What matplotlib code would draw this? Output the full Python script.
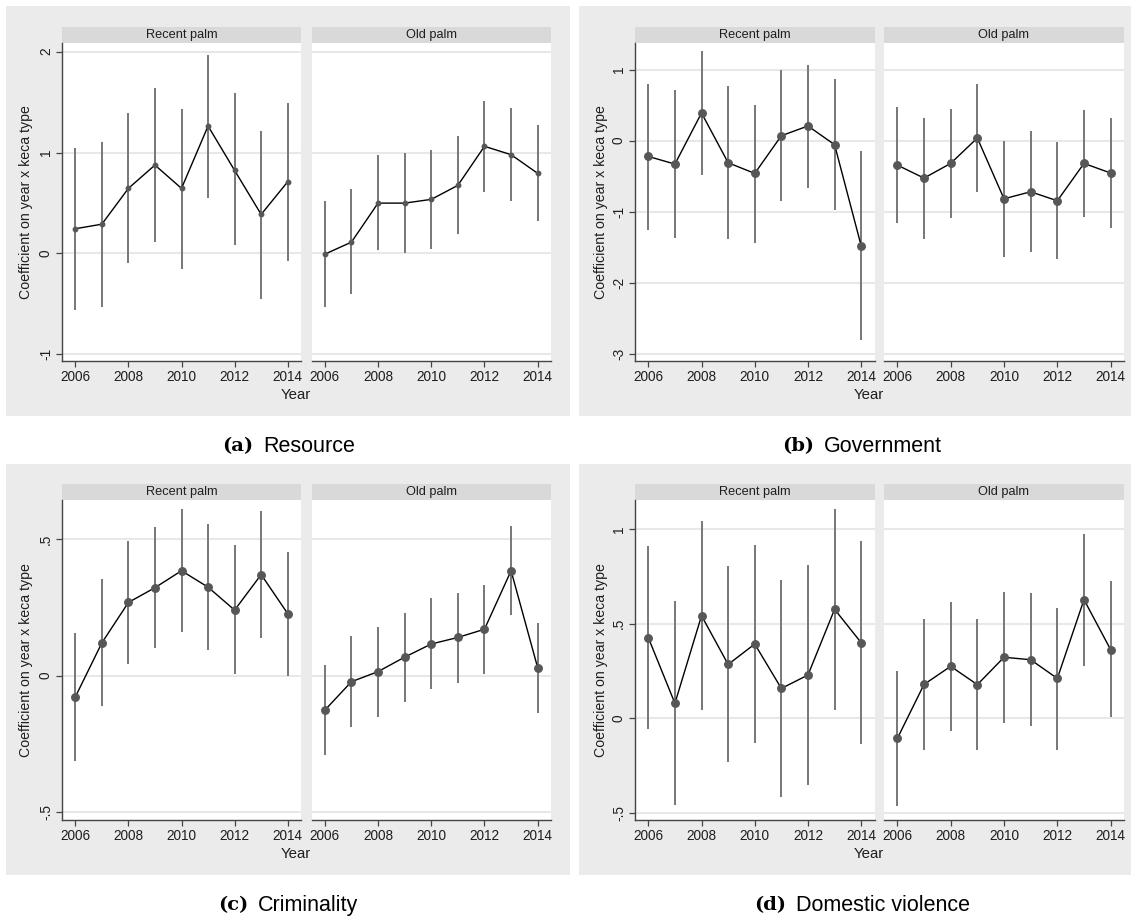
import numpy as np
import matplotlib.pyplot as plt
from matplotlib.patches import Rectangle

years = [2006, 2007, 2008, 2009, 2010, 2011, 2012, 2013, 2014]

# (a) Resource
res_recent = [0.245, 0.29, 0.645, 0.876, 0.645, 1.263, 0.823, 0.387, 0.711]
res_recent_lo = [-0.556, -0.533, -0.096, 0.116, -0.152, 0.549, 0.079, -0.449, -0.072]
res_recent_hi = [1.05, 1.108, 1.389, 1.637, 1.429, 1.964, 1.587, 1.213, 1.495]
res_old = [-0.007, 0.112, 0.499, 0.499, 0.536, 0.675, 1.062, 0.979, 0.794]
res_old_lo = [-0.529, -0.404, 0.033, 0.007, 0.046, 0.195, 0.608, 0.523, 0.324]
res_old_hi = [0.523, 0.642, 0.972, 0.992, 1.029, 1.161, 1.508, 1.438, 1.277]

# (b) Government
gov_recent = [-0.221, -0.329, 0.390, -0.310, -0.460, 0.070, 0.207, -0.056, -1.479]
gov_recent_lo = [-1.254, -1.362, -0.479, -1.385, -1.432, -0.854, -0.662, -0.972, -2.808]
gov_recent_hi = [0.803, 0.709, 1.258, 0.765, 0.507, 0.991, 1.061, 0.864, -0.141]
gov_old = [-0.343, -0.526, -0.319, 0.038, -0.817, -0.718, -0.845, -0.319, -0.455]
gov_old_lo = [-1.160, -1.376, -1.094, -0.723, -1.629, -1.559, -1.662, -1.075, -1.225]
gov_old_hi = [0.474, 0.315, 0.451, 0.803, 0.0, 0.131, -0.023, 0.437, 0.324]

# (c) Criminality
crim_recent = [-0.078, 0.120, 0.268, 0.322, 0.384, 0.324, 0.240, 0.370, 0.227]
crim_recent_lo = [-0.312, -0.112, 0.043, 0.101, 0.159, 0.094, 0.006, 0.137, -0.002]
crim_recent_hi = [0.156, 0.354, 0.494, 0.545, 0.611, 0.555, 0.477, 0.604, 0.454]
crim_old = [-0.126, -0.022, 0.015, 0.068, 0.116, 0.140, 0.170, 0.384, 0.029]
crim_old_lo = [-0.290, -0.189, -0.150, -0.096, -0.050, -0.026, 0.005, 0.222, -0.137]
crim_old_hi = [0.040, 0.145, 0.179, 0.230, 0.283, 0.304, 0.332, 0.546, 0.193]

# (d) Domestic violence
dv_recent = [0.426, 0.078, 0.542, 0.284, 0.392, 0.157, 0.228, 0.576, 0.399]
dv_recent_lo = [-0.057, -0.461, 0.044, -0.235, -0.131, -0.417, -0.353, 0.042, -0.138]
dv_recent_hi = [0.910, 0.618, 1.042, 0.806, 0.915, 0.730, 0.809, 1.106, 0.935]
dv_old = [-0.108, 0.178, 0.274, 0.177, 0.322, 0.309, 0.210, 0.627, 0.362]
dv_old_lo = [-0.463, -0.170, -0.069, -0.170, -0.027, -0.041, -0.168, 0.274, 0.004]
dv_old_hi = [0.247, 0.523, 0.615, 0.527, 0.668, 0.661, 0.583, 0.977, 0.724]

facet_names = ['Recent palm', 'Old palm']
captions = [('(a)', 'Resource'), ('(b)', 'Government'),
            ('(c)', 'Criminality'), ('(d)', 'Domestic violence')]
yticks = [[-1, 0, 1, 2], [-3, -2, -1, 0, 1], [-0.5, 0, 0.5], [-0.5, 0, 0.5, 1]]
yticklabels = [['-1', '0', '1', '2'], ['-3', '-2', '-1', '0', '1'],
               ['-.5', '0', '.5'], ['-.5', '0', '.5', '1']]
ylims = [(-1.066, 2.086), (-3.098, 1.374), (-0.526, 0.641), (-0.537, 1.152)]

series = [
    [(res_recent, res_recent_lo, res_recent_hi), (res_old, res_old_lo, res_old_hi)],
    [(gov_recent, gov_recent_lo, gov_recent_hi), (gov_old, gov_old_lo, gov_old_hi)],
    [(crim_recent, crim_recent_lo, crim_recent_hi), (crim_old, crim_old_lo, crim_old_hi)],
    [(dv_recent, dv_recent_lo, dv_recent_hi), (dv_old, dv_old_lo, dv_old_hi)],
]

W, H = 1135, 921
plt.rcParams['font.family'] = ['Liberation Sans', 'DejaVu Sans']

fig = plt.figure(figsize=(W / 100, H / 100), dpi=100)
renderer = fig.canvas.get_renderer()


def box(x0, y0, x1, y1):
    # pixel box (top-left origin) -> figure fraction
    return [x0 / W, 1 - y1 / H, (x1 - x0) / W, (y1 - y0) / H]


# layout of each panel in pixels: bg box, facet x ranges, strip top, plot top, plot bottom
panels = [
    dict(bg=(6, 6, 570, 416), fx=[(62, 301), (311.5, 551)], st=27, pt=43, pb=361,
         ylab=26, xlab=296, cap=(288.5, 446.5)),
    dict(bg=(579, 6, 1131, 416), fx=[(635, 874.5), (884, 1124)], st=27, pt=43, pb=361,
         ylab=601, xlab=869, cap=(862, 446.5)),
    dict(bg=(6, 464, 570, 875), fx=[(62, 301), (311.5, 551)], st=484, pt=500.5, pb=819.5,
         ylab=26, xlab=296, cap=(288, 905)),
    dict(bg=(579, 464, 1131, 875), fx=[(635, 874.5), (884, 1124)], st=484, pt=500.5, pb=819.5,
         ylab=601, xlab=869, cap=(862, 905)),
]

bg_col = '#ebebeb'
strip_col = '#d9d9d9'
axis_col = '#444444'
txt_col = '#1e1e1e'

for k, p in enumerate(panels):
    x0, y0, x1, y1 = p['bg']
    fig.patches.append(Rectangle((x0 / W, 1 - y1 / H), (x1 - x0) / W, (y1 - y0) / H,
                                 transform=fig.transFigure, facecolor=bg_col,
                                 edgecolor='none', zorder=-5))
    msize = 3.2 if k == 0 else 5.4
    for j, (fx0, fx1) in enumerate(p['fx']):
        # strip
        sax = fig.add_axes(box(fx0, p['st'], fx1, p['pt']))
        sax.set_facecolor(strip_col)
        sax.set_xticks([])
        sax.set_yticks([])
        for s in sax.spines.values():
            s.set_visible(False)
        sax.text(0.5, 0.5, facet_names[j], ha='center', va='center',
                 fontsize=9.2, color=txt_col, transform=sax.transAxes)

        ax = fig.add_axes(box(fx0, p['pt'], fx1, p['pb']))
        ax.set_facecolor('white')
        est, lo, hi = series[k][j]
        ax.vlines(years, lo, hi, color='#777777', linewidth=1.4, zorder=2)
        ax.plot(years, est, color='black', linewidth=1.0, zorder=3)
        ax.plot(years, est, linestyle='none', marker='o', markersize=msize,
                color='#575757', zorder=4)
        ax.set_xlim(2005.5, 2014.5)
        ax.set_ylim(*ylims[k])
        ax.set_yticks(yticks[k])
        for yv in yticks[k]:
            ax.axhline(yv, color='#e8e8e8', linewidth=1.5, zorder=1)
        ax.set_xticks([2006, 2008, 2010, 2012, 2014])
        ax.set_xticklabels(['2006', '2008', '2010', '2012', '2014'], fontsize=9.8,
                           color=txt_col)
        ax.tick_params(axis='x', length=4, width=0.9, color=axis_col, pad=2.5)
        ax.spines['top'].set_visible(False)
        ax.spines['right'].set_visible(False)
        ax.spines['bottom'].set_color(axis_col)
        ax.spines['bottom'].set_linewidth(1.0)
        if j == 0:
            ax.spines['left'].set_color(axis_col)
            ax.spines['left'].set_linewidth(1.0)
            ax.set_yticklabels(yticklabels[k], fontsize=9.8, rotation=90,
                               va='center', color=txt_col)
            ax.tick_params(axis='y', length=4, width=0.9, color=axis_col, pad=2.5)
        else:
            ax.spines['left'].set_visible(False)
            ax.tick_params(axis='y', length=0, labelleft=False)

    # axis titles
    ymid = (p['pt'] + p['pb']) / 2
    fig.text(p['ylab'] / W, 1 - ymid / H, 'Coefficient on year x keca type',
             rotation=90, ha='center', va='center', fontsize=10.2, color=txt_col)
    fig.text(p['xlab'] / W, 1 - (p['pb'] + 34) / H, 'Year', ha='center',
             va='center', fontsize=10.8, color=txt_col)

    # caption: bold tag + name, centred as a pair
    cx, cy = p['cap']
    tag = fig.text(0, 1 - cy / H, captions[k][0], ha='left', va='center',
                   fontsize=14, fontweight='bold', family='DejaVu Serif', color='black')
    name = fig.text(0, 1 - cy / H, captions[k][1], ha='left', va='center',
                    fontsize=15.5, color='black')
    w_tag = tag.get_window_extent(renderer).width
    w_name = name.get_window_extent(renderer).width
    gap = 10
    start = cx - (w_tag + gap + w_name) / 2
    tag.set_x(start / W)
    name.set_x((start + w_tag + gap) / W)

fig.savefig('out.png', dpi=100, facecolor='white')
